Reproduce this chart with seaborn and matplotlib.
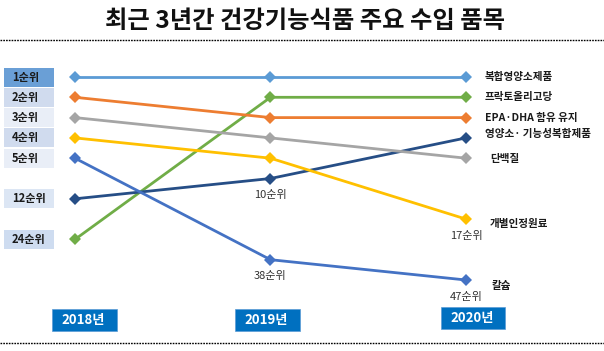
import matplotlib
matplotlib.use("Agg")
import matplotlib.pyplot as plt
import seaborn as sns
import pandas as pd
from matplotlib.patches import Rectangle
from matplotlib.lines import Line2D

sns.set_style("white")
plt.rcParams['font.family'] = ['Noto Sans CJK KR', 'DejaVu Sans']

# ---------------- data ----------------
title = "최근 3년간 건강기능식품 주요 수입 품목"
years = ["2018년", "2019년", "2020년"]
products = ["복합영양소제품", "프락토올리고당", "EPA·DHA 함유 유지",
            "영양소· 기능성복합제품", "단백질", "개별인정원료", "칼슘"]
# vertical slot (display position) of each product per year
slot_bokhap = [1, 1, 1]
slot_fracto = [9, 2, 2]
slot_epa = [2, 3, 3]
slot_complex = [7, 6, 4]
slot_protein = [3, 4, 5]
slot_indiv = [4, 5, 8]
slot_calcium = [5, 10, 11]
colors = ["#5B9BD5", "#70AD47", "#ED7D31", "#264E86", "#A5A5A5", "#FFC000", "#4472C4"]

left_rank_labels = ["1순위", "2순위", "3순위", "4순위", "5순위", "12순위", "24순위"]
left_rank_slots = [1, 2, 3, 4, 5, 7, 9]
left_box_colors = ["#6A9FD6", "#D0DBEE", "#E9EEF7", "#D0DBEE", "#E9EEF7", "#DCE6F4", "#CEDCF0"]

note_labels = ["10순위", "38순위", "17순위", "47순위"]
note_year_idx = [1, 1, 2, 2]
note_slots = [6, 10, 8, 11]

all_slots = [slot_bokhap, slot_fracto, slot_epa, slot_complex,
             slot_protein, slot_indiv, slot_calcium]
df = pd.DataFrame({
    "product": [p for p in products for _ in years],
    "x": [i for _ in products for i in range(len(years))],
    "slot": [s for sl in all_slots for s in sl],
})

# ---------------- figure ----------------
W, H = 604, 351
fig = plt.figure(figsize=(W / 100, H / 100), dpi=100)
ax = fig.add_axes([0, 0, 1, 1])

def px(x, y):
    return (x / W, 1 - y / H)

sns.lineplot(data=df, x="x", y="slot", hue="product", hue_order=products,
             palette=colors, marker="D", markersize=6.5, markeredgewidth=0,
             linewidth=2.0, legend=False, ax=ax, sort=False)

# map data to pixel layout: x 0..2 -> 75..466, slot 1..11 -> 77..280
x0p, dxp = 75.0, 195.5
y0p, dyp = 77.0, 20.3
ax.set_xlim(-x0p / dxp, (W - x0p) / dxp)
ax.set_ylim(1 + (H - y0p) / dyp, 1 - y0p / dyp)
ax.axis("off")

# right-side product labels
label_off = [(19, 0), (19, 0), (19, 0), (19, -4), (24, 1), (24, 5), (26, 6)]
for prod, sl, (ox, oy), in zip(products, all_slots, label_off):
    ax.annotate(prod, xy=(2, sl[2]), xytext=(ox * 0.72, -oy * 0.72),
                textcoords="offset points", ha="left", va="center",
                fontsize=7.6, fontweight="bold", color="#1a1a1a")

# rank notes under points
for lab, xi, sl in zip(note_labels, note_year_idx, note_slots):
    ax.annotate(lab, xy=(xi, sl), xytext=(0, -12), textcoords="offset points",
                ha="center", va="center", fontsize=8, color="#333333")

# left rank boxes
for lab, sl, c in zip(left_rank_labels, left_rank_slots, left_box_colors):
    yc = y0p + (sl - 1) * dyp
    fig.patches.append(Rectangle(px(4, yc + 9.5), 50 / W, 19 / H,
                                 transform=fig.transFigure, facecolor=c,
                                 edgecolor="none", zorder=0))
    fig.text(*px(12, yc), lab, ha="left", va="center", fontsize=8,
             fontweight="bold", color="#1a1a1a")

# year boxes
year_boxes = [(52, 309, 65, 22), (235, 309, 65, 22), (441, 307, 64, 22)]
for yr, (bx, by, bw, bh) in zip(years, year_boxes):
    fig.patches.append(Rectangle(px(bx, by + bh), bw / W, bh / H,
                                 transform=fig.transFigure, facecolor="#0070C0",
                                 edgecolor="#5B9BD5", linewidth=0.5, zorder=0))
    fig.text(*px(bx + bw / 2 - 1, by + bh / 2), yr, ha="center", va="center",
             fontsize=9.5, fontweight="bold", color="white")

# title and dotted rules
fig.text(*px(305, 21), title, ha="center", va="center", fontsize=17.5,
         fontweight="bold", color="#111111")
for yy in (40, 343):
    fig.lines.append(Line2D([0, 1], [1 - yy / H] * 2, transform=fig.transFigure,
                            color="black", linestyle=(0, (1.2, 0.8)), linewidth=1.0))

fig.savefig("out.png", dpi=100)
